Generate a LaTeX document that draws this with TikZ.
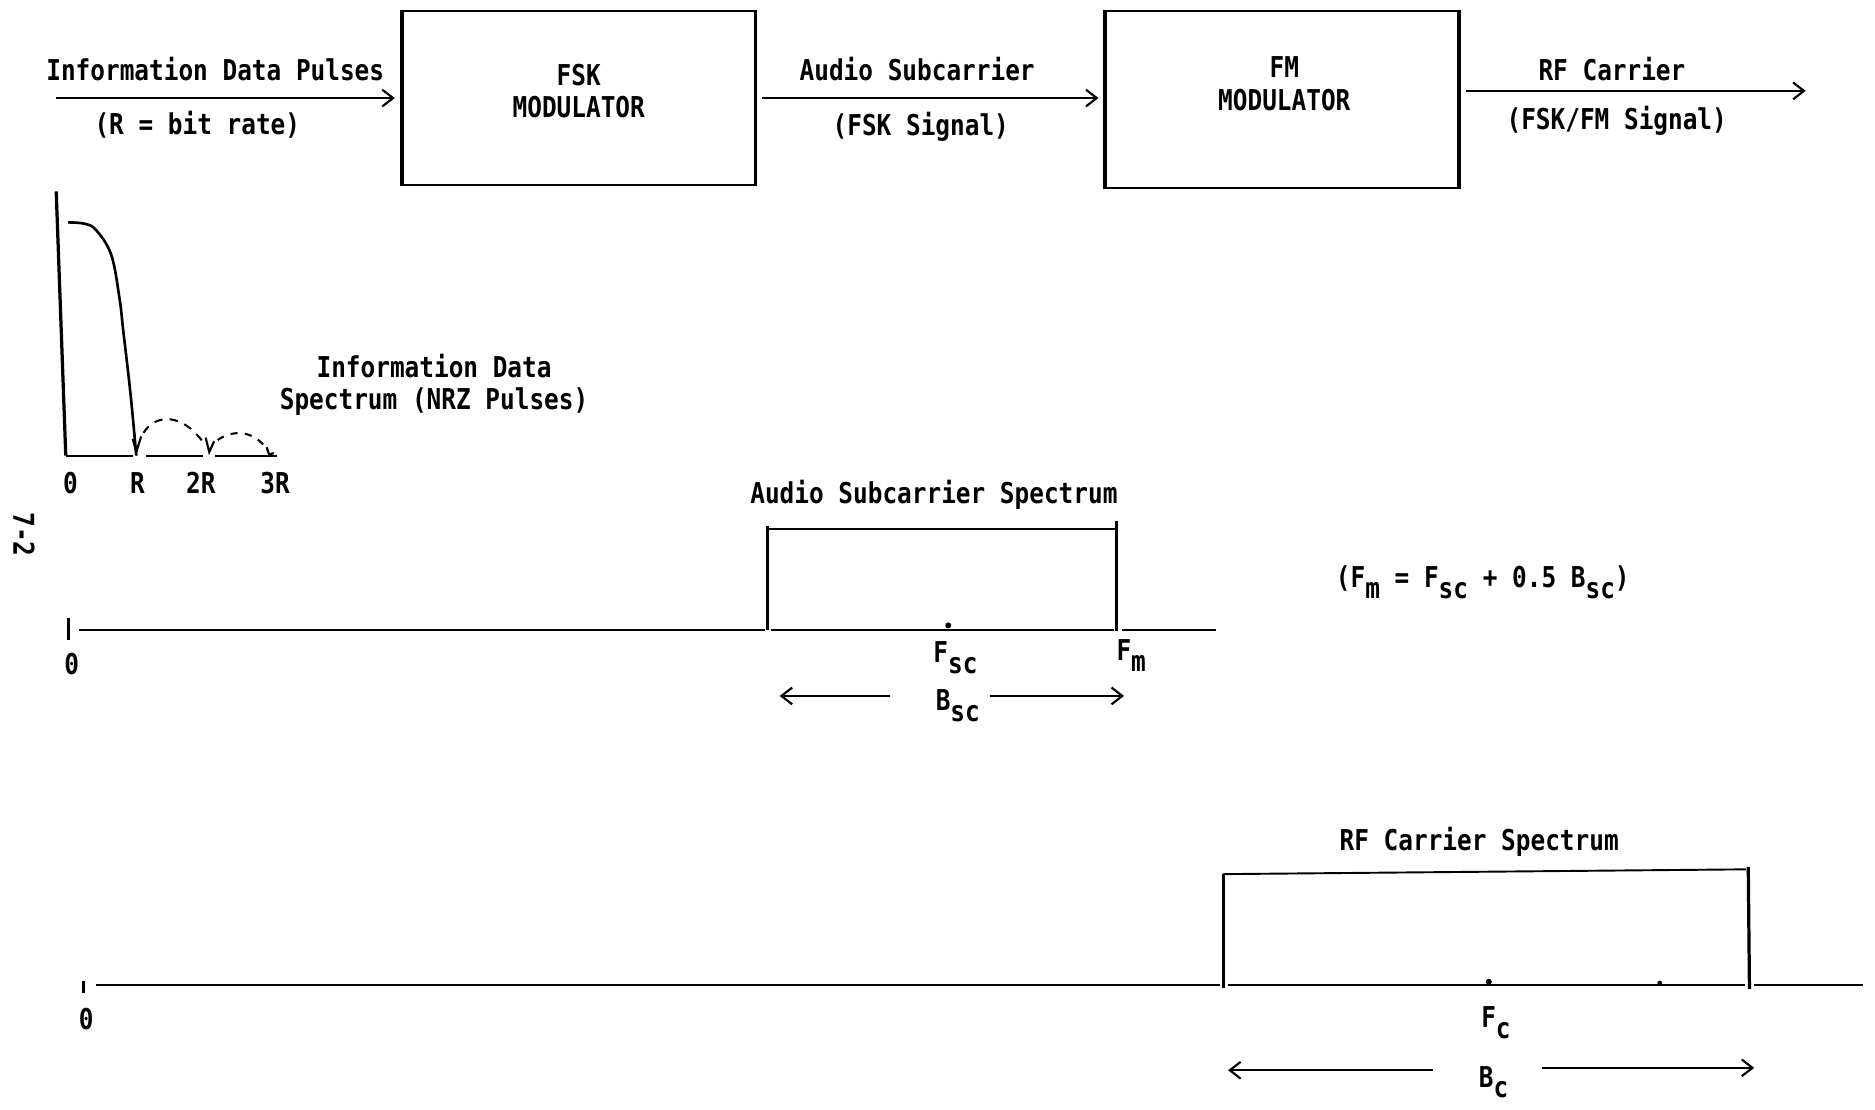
\documentclass[tikz,border=0pt]{standalone}
\usepackage{fontspec}
\setmainfont{DejaVu Sans Mono}[FakeStretch=0.85]
\usetikzlibrary{arrows.meta}
\newcommand\subs[1]{\raisebox{-9pt}{#1}}
\begin{document}
\begin{tikzpicture}[x=1pt,y=-1pt,
  lbl/.style={inner sep=0pt,font=\fontsize{24}{27}\selectfont\bfseries,align=center},
  box/.style={draw,line width=1.7pt,inner sep=0pt},
  vline/.style={line width=2.7pt},
  hline/.style={line width=1.6pt},
  arr/.style={line width=1.6pt,-{Straight Barb[length=9pt,width=14pt,line width=1.8pt]}},
  dot/.style={circle,fill,inner sep=0pt,minimum size=5pt}]
\useasboundingbox[fill=white] (0,0) rectangle (1568,928);

% ---- top block chain ----
\node[box,minimum width=294pt,minimum height=146pt] (fsk) at (484,82) {};
\draw[vline] (fsk.north west) -- (fsk.south west) (fsk.north east) -- (fsk.south east);
\node[lbl] (fsktxt) at (484,76) {FSK\\MODULATOR};
\node[box,minimum width=295pt,minimum height=148pt] (fm) at (1072,83) {};
\draw[vline] (fm.north west) -- (fm.south west) (fm.north east) -- (fm.south east);
\node[lbl] (fmtxt) at (1074,70) {FM\\MODULATOR};
\coordinate (in) at (47,82);
\coordinate (out) at (1510,76);
\draw[arr,shorten >=6pt] (in) -- (fsk.west |- in);
\draw[arr,shorten >=5pt,shorten <=5pt] (fsk.east |- in) -- (fm.west |- in);
\draw[arr,shorten <=6pt] (fm.east |- out) -- (out);
\node[lbl] (l1a) at (180,58) {Information Data Pulses};
\node[lbl] (l1b) at (165,104) {(R = bit rate)};
\node[lbl] (l2a) at (767,58) {Audio Subcarrier};
\node[lbl] (l2b) at (770,106) {(FSK Signal)};
\node[lbl] (l3a) at (1348,58) {RF Carrier};
\node[lbl] (l3b) at (1352,101) {(FSK/FM Signal)};

% ---- information data spectrum ----
\draw[vline] (47,160) -- (55,381);
\draw[line width=2.2pt] plot[smooth,tension=0.6] coordinates {(57,186) (70,187) (80,192) (93,213) (100,250) (103,276) (109,328) (114,381)};
\draw[hline] (55,381) -- (111,381) (122,381) -- (170,381) (180,381) -- (232,381);
\draw[line width=1.8pt] (111,367) -- (114,378) -- (118,365);
\draw[line width=1.8pt] (172,366) -- (175,378) -- (179,369);
\draw[line width=1.8pt] (223,374) -- (225,380) -- (229,379);
\draw[line width=1.7pt,dash pattern=on 7pt off 6pt] (120,362) .. controls (130,346) and (152,345) .. (170,370);
\draw[line width=1.7pt,dash pattern=on 6pt off 6pt] (182,368) .. controls (193,360) and (212,358) .. (224,377);
\node[lbl] (s0) at (59,404) {0};
\node[lbl] (sR) at (115,404) {R};
\node[lbl] (s2R) at (168,404) {2R};
\node[lbl] (s3R) at (230,404) {3R};
\node[lbl] (ids) at (363,322) {Information Data\\Spectrum (NRZ Pulses)};
\node[lbl,rotate=-90] (pg) at (20,447) {7-2};

% ---- audio subcarrier spectrum ----
\draw[vline] (57,517) -- (57,535);
\draw[hline] (66,527) -- (640,527) (645,527) -- (932,527) (938,527) -- (1017,527);
\draw[vline] (642,527) -- (642,440);
\draw[hline] (642,442) -- (934,442);
\draw[vline] (934,436) -- (934,528);
\node[dot] (fscdot) at (793,523) {};
\node[lbl] (z2) at (60,555) {0};
\node[lbl] (fsc) at (799,550) {F\subs{sc}};
\node[lbl] (fmm) at (946,548) {F\subs{m}};
\node[lbl] (asst) at (781,414) {Audio Subcarrier Spectrum};
\node[lbl] (bsc) at (801,590) {B\subs{sc}};
\coordinate (bscL) at (652,582);
\coordinate (bscR) at (940,582);
\draw[arr,shorten <=38pt] (bsc.west |- bscL) -- (bscL);
\draw[arr,shorten <=8pt] (bsc.east |- bscR) -- (bscR);
\node[lbl] (eq) at (1240,487) {(F\subs{m} = F\subs{sc} + 0.5 B\subs{sc})};

% ---- RF carrier spectrum ----
\draw[vline] (70,820) -- (70,830);
\draw[hline] (80,824) -- (1020,824) (1027,824) -- (1459,824) (1467,824) -- (1558,824);
\draw[vline] (1023,826) -- (1023,731);
\draw[hline] (1023,731) -- (1460,727);
\draw[vline] (1462,725) -- (1463,827);
\node[dot] (fcdot) at (1245,821) {};
\node[dot,minimum size=4pt] (fcdot2) at (1388,822) {};
\node[lbl] (z3) at (72,852) {0};
\node[lbl] (fc) at (1251,855) {F\subs{c}};
\node[lbl] (rfst) at (1237,704) {RF Carrier Spectrum};
\node[lbl] (bc) at (1249,905) {B\subs{c}};
\coordinate (bcL) at (1027,895);
\coordinate (bcR) at (1467,893);
\draw[arr,shorten <=38pt] (bc.west |- bcL) -- (bcL);
\draw[arr,shorten <=28pt] (bc.east |- bcR) -- (bcR);
\end{tikzpicture}
\end{document}
